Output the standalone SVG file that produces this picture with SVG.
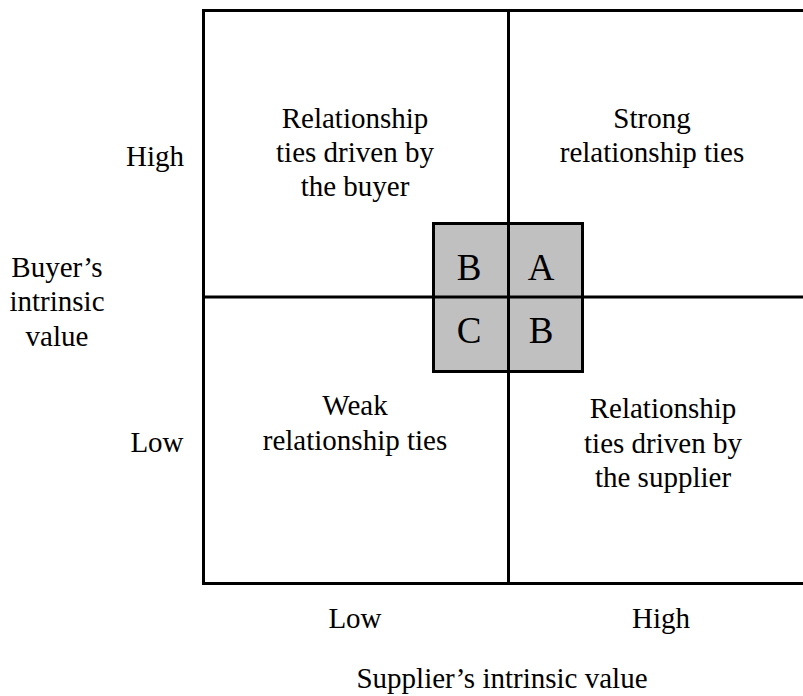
<svg xmlns="http://www.w3.org/2000/svg" width="803" height="696" viewBox="0 0 803 696">
  <style>
    .label { font-family: 'Liberation Serif', 'Times New Roman', serif; font-size: 29px; fill: #000; text-anchor: middle; }
    .cell { font-family: 'Liberation Serif', 'Times New Roman', serif; font-size: 37px; fill: #000; text-anchor: middle; }
    .ln { stroke: #000; stroke-width: 3; fill: none; }
  </style>
  <rect width="803" height="696" fill="#fff"/>

  <!-- central shaded square -->
  <g id="core">
    <rect x="433.5" y="223.5" width="149" height="148" fill="#c0c0c0" stroke="#000" stroke-width="3"/>
  </g>

  <!-- frame and axes -->
  <g id="connectors">
    <path class="ln" d="M803 10.5 H203.5 V583.5 H803"/>
    <line class="ln" x1="508.5" y1="10" x2="508.5" y2="584"/>
    <line class="ln" x1="203" y1="297" x2="803" y2="297"/>
  </g>

  <g id="cell-letters">
    <text class="cell" x="469" y="280">B</text>
    <text class="cell" x="541" y="280">A</text>
    <text class="cell" x="469" y="343">C</text>
    <text class="cell" x="541" y="343">B</text>
  </g>

  <g id="q-buyer">
    <text class="label" x="355" y="128">Relationship</text>
    <text class="label" x="355" y="162">ties driven by</text>
    <text class="label" x="355" y="196">the buyer</text>
  </g>
  <g id="q-strong">
    <text class="label" x="652" y="128">Strong</text>
    <text class="label" x="652" y="162">relationship ties</text>
  </g>
  <g id="q-weak">
    <text class="label" x="355" y="415">Weak</text>
    <text class="label" x="355" y="450">relationship ties</text>
  </g>
  <g id="q-supplier">
    <text class="label" x="663" y="418">Relationship</text>
    <text class="label" x="663" y="453">ties driven by</text>
    <text class="label" x="663" y="487">the supplier</text>
  </g>

  <g id="y-axis">
    <text class="label" x="155" y="166">High</text>
    <text class="label" x="157" y="452">Low</text>
    <text class="label" x="57" y="277">Buyer’s</text>
    <text class="label" x="57" y="311">intrinsic</text>
    <text class="label" x="57" y="346">value</text>
  </g>
  <g id="x-axis">
    <text class="label" x="355" y="628">Low</text>
    <text class="label" x="661" y="628">High</text>
    <text class="label" x="502" y="688">Supplier’s intrinsic value</text>
  </g>
</svg>
